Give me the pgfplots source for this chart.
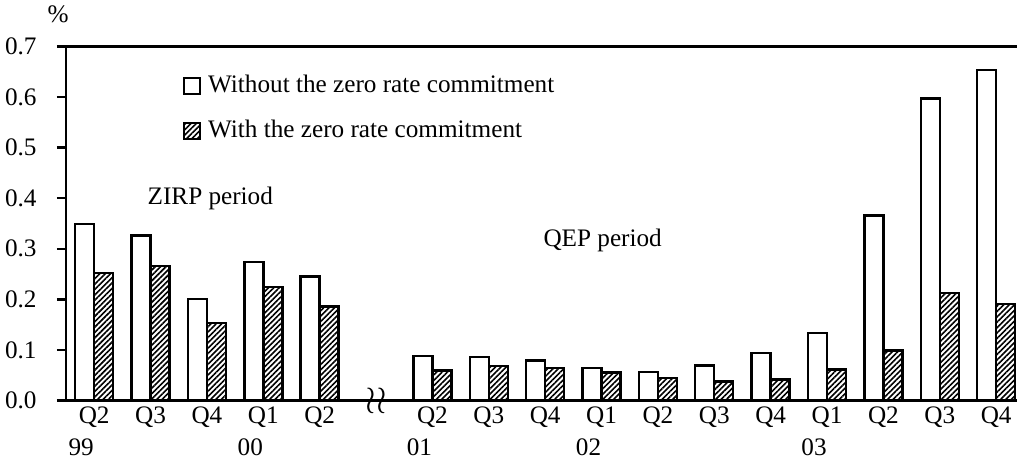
\documentclass[border=0pt]{standalone}
\usepackage{fontspec}
\setmainfont{Liberation Serif}
\usepackage{pgfplots}
\pgfplotsset{compat=1.18}
\usetikzlibrary{patterns.meta,calc}
\newcommand{\chartfont}{\fontsize{12.6}{15}\selectfont}
\begin{document}
\chartfont
\begin{tikzpicture}[font=\chartfont]
\begin{axis}[name=ax,
  width=475.5pt, height=177pt, scale only axis,
  xmin=-0.5, xmax=16.37, ymin=0, ymax=0.7,
  axis x line*=bottom, axis y line*=left,
  axis line style={-, line width=1.2pt, black},
  tick label style={font=\chartfont},
  ytick={0,0.1,0.2,0.3,0.4,0.5,0.6,0.7},
  yticklabel style={/pgf/number format/fixed, /pgf/number format/precision=1, /pgf/number format/fixed zerofill, anchor=east, inner sep=0pt, xshift=-10pt},
  /pgf/number format/assume math mode=true,
  ytick style={line width=1.2pt, black},
  tick align=outside, major tick length=4.5pt,
  xtick={0,1,2,3,4,6,7,8,9,10,11,12,13,14,15,16},
  xticklabels={Q2,Q3,Q4,Q1,Q2,Q2,Q3,Q4,Q1,Q2,Q3,Q4,Q1,Q2,Q3,Q4},
  xtick style={draw=none},
  xticklabel style={anchor=base, inner sep=0pt, yshift=-7pt},
  legend style={draw=none, fill=none, font=\chartfont, at={(0.123,0.918)}, anchor=north west, row sep=11.5pt, column sep=3.5pt, inner sep=0pt,
    nodes={inner sep=0pt, text height=8.5pt, text depth=2.5pt}},
  legend cell align=left,
  legend image code/.code={\draw[#1, line width=0.9pt] (0pt,-3.5pt) rectangle (8pt,4.5pt);},
  clip=false,
]
\addplot[ybar, bar width=9.5pt, bar shift=-4.75pt, draw=black, fill=white, line width=1.2pt] coordinates {
(0,0.349) (1,0.326) (2,0.201) (3,0.274) (4,0.245)
(6,0.0877) (7,0.0857) (8,0.079) (9,0.064) (10,0.056) (11,0.069) (12,0.094)
(13,0.134) (14,0.366) (15,0.597) (16,0.653)};
\addlegendentry{Without the zero rate commitment}
\addplot[ybar, bar width=9.5pt, bar shift=4.75pt, draw=black, line width=1.2pt,
  pattern={Lines[angle=45, distance=1.9pt, line width=0.8pt]}] coordinates {
(0,0.252) (1,0.266) (2,0.153) (3,0.224) (4,0.186)
(6,0.059) (7,0.068) (8,0.064) (9,0.055) (10,0.044) (11,0.0376) (12,0.0415)
(13,0.061) (14,0.099) (15,0.213) (16,0.191)};
\addlegendentry{With the zero rate commitment}
\draw[line width=1.2pt] (rel axis cs:0,1) -- (rel axis cs:1,1);
\node at (axis cs:2.06,0.40) {ZIRP period};
\node at (axis cs:9.02,0.316) {QEP period};
\node[scale=1.6] at (axis cs:5,0) {$\wr\wr$};
\node[anchor=base, xshift=-6.5pt, yshift=-27.5pt] at (axis cs:0,0) {99};
\node[anchor=base, xshift=-6.5pt, yshift=-27.5pt] at (axis cs:3,0) {00};
\node[anchor=base, xshift=-6.5pt, yshift=-27.5pt] at (axis cs:6,0) {01};
\node[anchor=base, xshift=-6.5pt, yshift=-27.5pt] at (axis cs:9,0) {02};
\node[anchor=base, xshift=-6.5pt, yshift=-27.5pt] at (axis cs:13,0) {03};
\node[anchor=base, xshift=-4pt, yshift=11.75pt] at (rel axis cs:0,1) {\%};
\end{axis}
\pgfresetboundingbox
\useasboundingbox ($(ax.south west)+(-33pt,-29.5pt)$) rectangle ($(ax.north east)+(0pt,23.25pt)$);
\end{tikzpicture}
\end{document}
